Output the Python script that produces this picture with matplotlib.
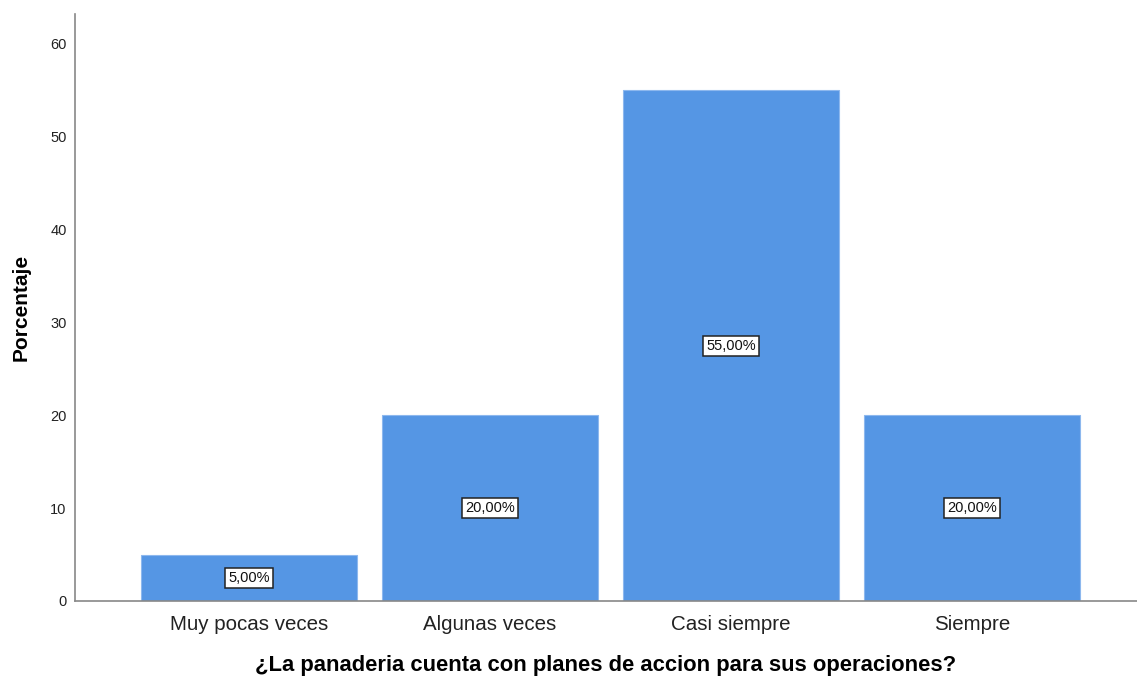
import matplotlib.pyplot as plt

plt.rcParams['font.family'] = ['Liberation Sans', 'DejaVu Sans']

categorias = ["Muy pocas veces", "Algunas veces", "Casi siempre", "Siempre"]
porcentajes = [5.0, 20.0, 55.0, 20.0]
yticks = [0, 10, 20, 30, 40, 50, 60]

fig = plt.figure(figsize=(11.37, 6.79), dpi=100)
ax = fig.add_axes([0.066, 0.115, 0.934, 0.864])

x = range(len(categorias))
ax.bar(x, porcentajes, width=0.896, color="#5596E4", edgecolor="#8DB8EE", linewidth=0.8, zorder=2)

# etiquetas de porcentaje en el centro de cada barra
for xi, v in zip(x, porcentajes):
    ax.text(xi, v / 2, f"{v:.2f}%".replace(".", ","), ha="center", va="center", fontsize=10.5,
            color="#111111",
            bbox=dict(boxstyle="square,pad=0.2", fc="white", ec="#222222", lw=1.1), zorder=3)

ax.set_xlim(-0.722, 3.685)
ax.set_ylim(0, 63.2)
ax.set_xticks(list(x))
ax.set_xticklabels(categorias, fontsize=14.8, color="#222222")
ax.set_yticks(yticks)
ax.set_yticklabels([str(t) for t in yticks], fontsize=10.5, color="#222222")
ax.tick_params(length=0, pad=6)
ax.tick_params(axis="x", pad=10)

for s in ["top", "right"]:
    ax.spines[s].set_visible(False)
for s in ["left", "bottom"]:
    ax.spines[s].set_color("#888888")
    ax.spines[s].set_linewidth(1.2)

ax.set_ylabel("Porcentaje", fontsize=15, fontweight="bold", labelpad=14)
ax.set_xlabel("¿La panaderia cuenta con planes de accion para sus operaciones?", fontsize=15.8,
              fontweight="bold", labelpad=15)

fig.savefig("out.png", dpi=100)
